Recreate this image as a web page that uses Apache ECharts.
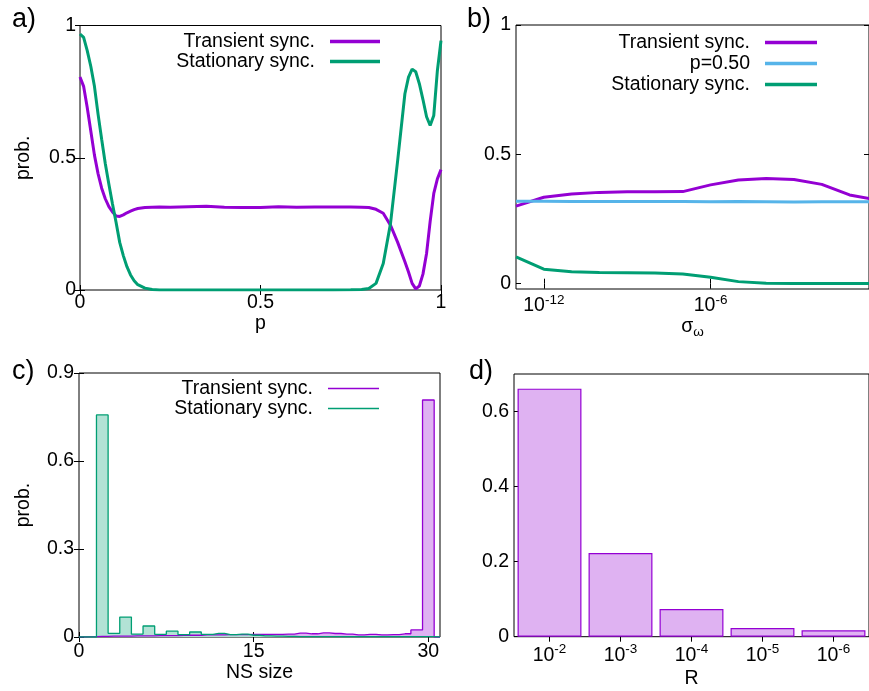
<!DOCTYPE html>
<html><head><meta charset="utf-8">
<script src="https://cdn.jsdelivr.net/npm/echarts@6/dist/echarts.min.js"></script>
<style>html,body{margin:0;padding:0;background:#fff}#c{width:869px;height:691px}</style>
</head><body><div id="c"></div>
<script>
// ---- panel a ----
const pA = [0,0.01,0.02,0.03,0.04,0.05,0.06,0.07,0.08,0.09,0.10,0.11,0.12,0.13,0.14,0.15,0.16,0.18,0.20,0.22,0.25,0.30,0.35,0.40,0.45,0.50,0.55,0.60,0.65,0.70,0.75,0.78,0.80,0.82,0.84,0.86,0.88,0.90,0.91,0.92,0.93,0.94,0.95,0.96,0.97,0.98,0.99,1.00];
const transA = [0.805,0.77,0.69,0.60,0.51,0.44,0.385,0.345,0.315,0.295,0.280,0.278,0.284,0.292,0.298,0.304,0.308,0.312,0.313,0.314,0.313,0.315,0.317,0.313,0.312,0.312,0.315,0.313,0.314,0.314,0.314,0.313,0.312,0.305,0.290,0.245,0.18,0.107,0.068,0.025,0.004,0.015,0.06,0.138,0.26,0.365,0.42,0.455];
const statA = [0.968,0.955,0.905,0.845,0.77,0.665,0.57,0.478,0.40,0.325,0.255,0.18,0.13,0.088,0.057,0.035,0.02,0.007,0.002,0,0,0,0,0,0,0,0,0,0,0,0.001,0.002,0.006,0.025,0.10,0.25,0.49,0.742,0.805,0.835,0.825,0.78,0.72,0.655,0.622,0.66,0.83,0.943];
// ---- panel b ----
const sigmaExp = [-13,-12,-11,-10,-9,-8,-7,-6,-5,-4,-3,-2,-1,0];
const transB = [0.300,0.334,0.347,0.353,0.355,0.355,0.356,0.382,0.401,0.407,0.403,0.384,0.343,0.324];
const halfB  = [0.319,0.319,0.318,0.318,0.318,0.318,0.318,0.317,0.318,0.317,0.316,0.317,0.317,0.316];
const statB  = [0.104,0.056,0.046,0.043,0.042,0.041,0.0375,0.025,0.008,0.002,0.001,0.001,0.001,0.001];
const sigmaTicks = [-12,-6];
// ---- panel c ----
const nsSize = [0,1,2,3,4,5,6,7,8,9,10,11,12,13,14,15,16,17,18,19,20,21,22,23,24,25,26,27,28,29,30,31];
const transC = [0,0.001,0.002,0.003,0.003,0.004,0.004,0.005,0.005,0.006,0.006,0.007,0.007,0.008,0.008,0.009,0.009,0.009,0.010,0.013,0.011,0.014,0.012,0.010,0.007,0.009,0.007,0.008,0.011,0.024,0.808,0];
const statC  = [0,0,0.757,0.0125,0.068,0.010,0.0375,0.009,0.020,0.008,0.017,0.009,0.0125,0.008,0.010,0.006,0.004,0.003,0.002,0.001,0.001,0.001,0.001,0.001,0.001,0.001,0.001,0.001,0.001,0.001,0.001,0];
const nsTicks = [0,15,30];
// ---- panel d ----
const rExp = [-2,-3,-4,-5,-6];
const transD = [0.661,0.223,0.074,0.023,0.017];

const PURPLE = '#9400d3', GREEN = '#009e73', BLUE = '#56b4e9';
const FONT = 'Liberation Sans, Arial, Helvetica, sans-serif';
const FS = 19.5;
const txt = {color:'#000', fontFamily: FONT, fontSize: FS};
const tick = {show:true, inside:true, length:5, lineStyle:{color:'#000', width:1}};
const supRich = {
  b:{fontFamily:FONT, fontSize:FS, color:'#000', lineHeight:26},
  s:{fontFamily:FONT, fontSize:13.5, color:'#000', lineHeight:9, verticalAlign:'top'}
};
const pow = v => '{b|10}{s|' + v + '}';

const zip = (xs, ys) => xs.map((x,i)=>[x, ys[i]]);

function xAx(grid, o){ return Object.assign({gridIndex:grid, type:'value', splitLine:{show:false}, axisLine:{show:false}, axisTick:tick, axisLabel:Object.assign({margin:3}, txt)}, o); }
function yAx(grid, o){ return Object.assign({gridIndex:grid, type:'value', splitLine:{show:false}, axisLine:{show:false}, axisTick:tick, axisLabel:Object.assign({margin:4}, txt)}, o); }
const hidden = {show:false};
const titleStyle = {fontFamily:FONT, fontSize:27, fontWeight:'normal', color:'#000'};

const option = {
  animation:false,
  backgroundColor:'#fff',
  title:[
    {text:'a)', left:12, top:6, padding:0, textStyle:titleStyle},
    {text:'b)', left:467, top:6, padding:0, textStyle:titleStyle},
    {text:'c)', left:12, top:358, padding:0, textStyle:titleStyle},
    {text:'d)', left:469, top:358, padding:0, textStyle:titleStyle}
  ],
  grid:[
    {left:80, top:25.5, width:361, height:264.5, show:true, borderColor:'#000', borderWidth:1},
    {left:516, top:25, width:353.5, height:264, show:true, borderColor:'#000', borderWidth:1},
    {left:79, top:373, width:361, height:264, show:true, borderColor:'#000', borderWidth:1},
    {left:514, top:374, width:361.5, height:262.7, show:true, borderColor:'#000', borderWidth:1}
  ],
  xAxis:[
    xAx(0,{min:0, max:1, axisTick:Object.assign({customValues:[0,0.5,1]}, tick), axisLabel:Object.assign({margin:3, customValues:[0,0.5,1]}, txt),
      name:'p', nameLocation:'middle', nameGap:20, nameTextStyle:txt}),
    xAx(0,{position:'top', min:0, max:1, axisTick:Object.assign({customValues:[0,0.5,1]}, tick), axisLabel:hidden}),
    xAx(1,{min:-13, max:Math.log10(0.5), axisTick:Object.assign({customValues:sigmaTicks}, tick),
      axisLabel:{margin:4, customValues:sigmaTicks, formatter:pow, rich:supRich},
      name:'{s|σ}{w|ω}', nameLocation:'middle', nameGap:24,
      nameTextStyle:{rich:{s:{fontFamily:FONT, fontSize:FS, color:'#000', lineHeight:24}, w:{fontFamily:FONT, fontSize:13.5, color:'#000', lineHeight:10, verticalAlign:'bottom'}}}}),
    xAx(1,{position:'top', min:-13, max:Math.log10(0.5), axisTick:Object.assign({customValues:sigmaTicks}, tick), axisLabel:hidden}),
    xAx(2,{min:0, max:31, axisTick:Object.assign({customValues:nsTicks}, tick), axisLabel:Object.assign({margin:5, customValues:nsTicks}, txt),
      name:'NS size', nameLocation:'middle', nameGap:25, nameTextStyle:txt}),
    xAx(2,{position:'top', min:0, max:31, axisTick:Object.assign({customValues:nsTicks}, tick), axisLabel:hidden}),
    {gridIndex:3, type:'category', data:rExp, boundaryGap:true, axisLine:{show:false}, splitLine:{show:false},
      axisTick:Object.assign({alignWithLabel:true, interval:0}, tick), axisLabel:{margin:6, interval:0, formatter:pow, rich:supRich},
      name:'R', nameLocation:'middle', nameGap:32, nameTextStyle:txt},
    {gridIndex:3, type:'category', position:'top', data:rExp, boundaryGap:true, axisLine:{show:false}, splitLine:{show:false},
      axisTick:Object.assign({alignWithLabel:true, interval:0}, tick), axisLabel:hidden}
  ],
  yAxis:[
    yAx(0,{min:0, max:1, axisTick:Object.assign({customValues:[0,0.5,1]}, tick), axisLabel:Object.assign({margin:4, customValues:[0,0.5,1]}, txt),
      name:'prob.', nameLocation:'middle', nameRotate:90, nameGap:46, nameTextStyle:txt}),
    yAx(0,{position:'right', min:0, max:1, axisTick:Object.assign({customValues:[0,0.5,1]}, tick), axisLabel:hidden}),
    yAx(1,{min:-0.0205, max:1, axisTick:Object.assign({customValues:[0,0.5,1]}, tick), axisLabel:Object.assign({margin:5, customValues:[0,0.5,1]}, txt)}),
    yAx(1,{position:'right', min:-0.0205, max:1, axisTick:Object.assign({customValues:[0,0.5,1]}, tick), axisLabel:hidden}),
    yAx(2,{min:0, max:0.9, axisTick:Object.assign({customValues:[0,0.3,0.6,0.9]}, tick), axisLabel:Object.assign({margin:5, customValues:[0,0.3,0.6,0.9]}, txt),
      name:'prob.', nameLocation:'middle', nameRotate:90, nameGap:45, nameTextStyle:txt}),
    yAx(2,{position:'right', min:0, max:0.9, axisTick:Object.assign({customValues:[0,0.3,0.6,0.9]}, tick), axisLabel:hidden}),
    yAx(3,{min:0, max:0.7, axisTick:Object.assign({customValues:[0,0.2,0.4,0.6]}, tick), axisLabel:Object.assign({margin:5, customValues:[0,0.2,0.4,0.6]}, txt)}),
    yAx(3,{position:'right', min:0, max:0.7, axisTick:hidden, axisLabel:hidden})
  ],
  legend:[
    {data:[{name:'Transient sync.', icon:'rect', itemStyle:{color:PURPLE}}], right:869-380, top:31.5, itemWidth:50, itemHeight:3.5},
    {data:[{name:'Stationary sync.', icon:'rect', itemStyle:{color:GREEN}}], right:869-380, top:51.5, itemWidth:50, itemHeight:3.5},
    {data:[{name:'Transient sync.', icon:'rect', itemStyle:{color:PURPLE}}], right:869-817, top:32.5, itemWidth:52, itemHeight:3.5},
    {data:[{name:'p=0.50', icon:'rect', itemStyle:{color:BLUE}}], right:869-817, top:53.5, itemWidth:52, itemHeight:3.5},
    {data:[{name:'Stationary sync.', icon:'rect', itemStyle:{color:GREEN}}], right:869-817, top:74.5, itemWidth:52, itemHeight:3.5},
    {data:[{name:'Transient sync.', icon:'rect', itemStyle:{color:PURPLE}}], right:869-379, top:378.5, itemWidth:51, itemHeight:1.5},
    {data:[{name:'Stationary sync.', icon:'rect', itemStyle:{color:GREEN}}], right:869-379, top:398.5, itemWidth:51, itemHeight:1.5}
  ].map(l => Object.assign({orient:'vertical', align:'right', padding:0, selectedMode:false,
      textStyle:Object.assign({padding:[0,10,0,0]}, txt)}, l)),
  series:[
    {name:'Transient sync.', type:'line', xAxisIndex:0, yAxisIndex:0, data:zip(pA, transA), showSymbol:false, symbol:'none', lineStyle:{color:PURPLE, width:3}, itemStyle:{color:PURPLE}},
    {name:'Stationary sync.', type:'line', xAxisIndex:0, yAxisIndex:0, data:zip(pA, statA), showSymbol:false, symbol:'none', lineStyle:{color:GREEN, width:3}, itemStyle:{color:GREEN}},
    {name:'Transient sync.', type:'line', xAxisIndex:2, yAxisIndex:2, data:zip(sigmaExp, transB), symbol:'none', lineStyle:{color:PURPLE, width:3}, itemStyle:{color:PURPLE}},
    {name:'p=0.50', type:'line', xAxisIndex:2, yAxisIndex:2, data:zip(sigmaExp, halfB), symbol:'none', lineStyle:{color:BLUE, width:3}, itemStyle:{color:BLUE}},
    {name:'Stationary sync.', type:'line', xAxisIndex:2, yAxisIndex:2, data:zip(sigmaExp, statB), symbol:'none', lineStyle:{color:GREEN, width:3}, itemStyle:{color:GREEN}},
    {name:'Transient sync.', type:'line', step:'middle', xAxisIndex:4, yAxisIndex:4, data:zip(nsSize, transC), symbol:'none', lineStyle:{color:PURPLE, width:1.3}, itemStyle:{color:PURPLE}, areaStyle:{color:'#dfb2f2', opacity:1}},
    {name:'Stationary sync.', type:'line', step:'middle', xAxisIndex:4, yAxisIndex:4, data:zip(nsSize, statC), symbol:'none', lineStyle:{color:GREEN, width:1.3}, itemStyle:{color:GREEN}, areaStyle:{color:'#b2e2d5', opacity:1}},
    {name:'Transient sync.', type:'bar', xAxisIndex:6, yAxisIndex:6, data:transD, barWidth:'90%', itemStyle:{color:'#dfb2f2', borderColor:PURPLE, borderWidth:1.2}}
  ]
};
const chart = echarts.init(document.getElementById('c'));
chart.setOption(option);
</script>
</body></html>
